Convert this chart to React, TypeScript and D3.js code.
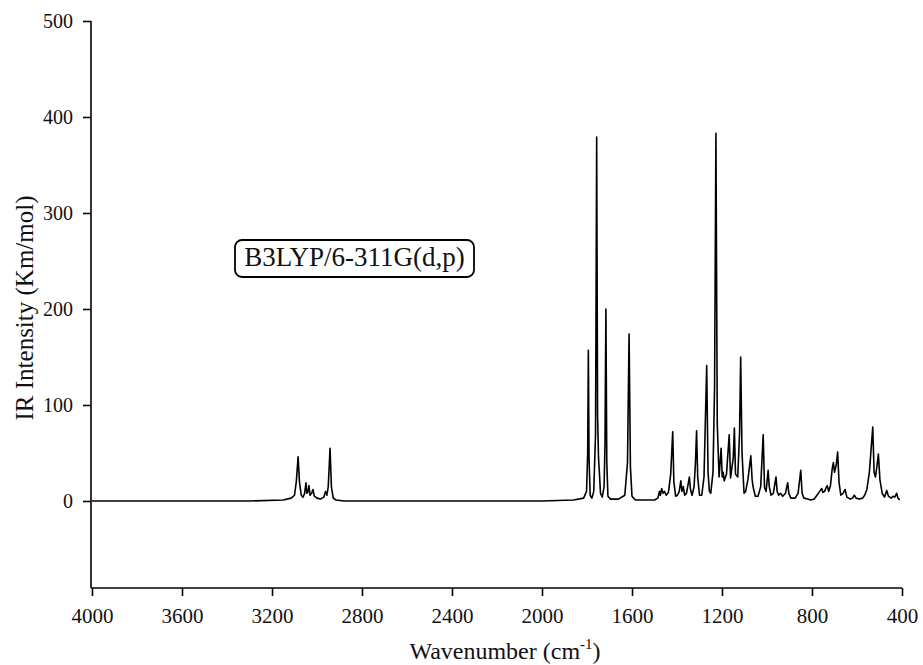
import React, { useEffect, useRef } from 'react';
import * as d3 from 'd3';

const chBand: [number, number][] = [
  [4000, 0], [3300, 0], [3150, 1], [3115, 3], [3100, 6], [3092, 20], [3084, 46], [3078, 20],
  [3070, 6], [3062, 4], [3055, 8], [3049, 19], [3045, 8], [3040, 10], [3036, 16], [3031, 6],
  [3024, 8], [3018, 12], [3012, 5], [3000, 3], [2985, 2], [2970, 4], [2962, 10], [2956, 6],
  [2950, 15], [2942, 55], [2936, 15], [2928, 3], [2915, 1], [2880, 0],
];

const carbonylBand: [number, number][] = [
  [2000, 0], [1860, 1], [1815, 3], [1802, 10], [1797, 50], [1794, 157], [1791, 45], [1786, 6],
  [1778, 3], [1770, 10], [1762, 70], [1757, 379], [1753, 90], [1749, 46], [1745, 30], [1740, 8],
  [1732, 4], [1724, 15], [1720, 60], [1716, 200], [1712, 40], [1707, 5], [1695, 2], [1660, 2],
  [1632, 6], [1620, 40], [1613, 174], [1607, 35], [1600, 5], [1585, 1], [1530, 1],
];

const fingerprintBand: [number, number][] = [
  [1500, 1], [1485, 3], [1478, 10], [1474, 6], [1468, 13], [1462, 8], [1456, 10], [1448, 6],
  [1438, 9], [1428, 28], [1419, 72], [1414, 20], [1406, 5], [1398, 6], [1390, 10], [1383, 21],
  [1378, 10], [1372, 15], [1366, 6], [1358, 8], [1350, 18], [1345, 25], [1340, 12], [1333, 6],
  [1324, 15], [1318, 40], [1313, 73], [1308, 25], [1300, 6], [1290, 6], [1280, 25], [1268, 141],
  [1262, 30], [1256, 10], [1250, 8], [1240, 30], [1233, 120], [1227, 383], [1221, 80], [1213, 25],
  [1204, 55], [1199, 25], [1195, 30], [1190, 21], [1180, 28], [1168, 69], [1162, 24], [1150, 45],
  [1145, 76], [1140, 28], [1130, 25], [1122, 70], [1117, 150], [1111, 50], [1102, 8], [1095, 10],
  [1085, 22], [1072, 47], [1066, 22], [1062, 15], [1052, 5], [1040, 5], [1028, 15], [1017, 69],
  [1011, 14], [1004, 10], [995, 32], [990, 15], [982, 6], [972, 8], [960, 25], [955, 10],
  [948, 6], [940, 8], [930, 5], [918, 8], [908, 19], [903, 8], [894, 3], [875, 3],
  [862, 8], [850, 32], [844, 8], [836, 3], [820, 2], [805, 1], [790, 2], [778, 6],
  [766, 10], [757, 13], [751, 9], [744, 10], [737, 14], [732, 16], [726, 10], [718, 16],
  [710, 34], [705, 40], [700, 30], [692, 38], [686, 51], [680, 20], [672, 6], [662, 8],
  [653, 12], [645, 4], [630, 2], [620, 3], [612, 6], [604, 3], [590, 2], [575, 3],
  [566, 6], [556, 12], [545, 30], [530, 77], [524, 30], [518, 25], [512, 35], [505, 49],
  [498, 22], [488, 8], [478, 4], [468, 11], [460, 5], [448, 3], [440, 5], [432, 4],
  [424, 8], [418, 3], [410, 1],
];

const xTicks = [4000, 3600, 3200, 2800, 2400, 2000, 1600, 1200, 800, 400];
const yTicks = [0, 100, 200, 300, 400, 500];
const methodLabel = 'B3LYP/6-311G(d,p)';

const FONT = '"Liberation Serif", "Times New Roman", serif';

const App = () => {
  const svgRef = useRef<SVGSVGElement>(null);

  useEffect(() => {
    const svg = d3.select(svgRef.current);
    svg.selectAll('*').remove();

    const left = 91;
    const bottom = 588;

    const x = d3.scaleLinear().domain([4000, 400]).range([92, 902]);
    const y = d3.scaleLinear().domain([0, 500]).range([501, 21]);

    // x axis
    const xAxis = svg.append('g')
      .attr('transform', `translate(0,${bottom})`)
      .call(d3.axisBottom(x).tickValues(xTicks).tickSize(8).tickSizeOuter(0).tickPadding(12).tickFormat(d3.format('d')))
      .attr('font-family', FONT)
      .attr('font-size', 21);
    xAxis.select('.domain').attr('stroke-width', 1.6).attr('d', `M${left},0H902`);
    xAxis.selectAll('.tick line').attr('stroke-width', 1.6);
    xAxis.selectAll('text').style('font-family', FONT).attr('fill', '#111');

    // y axis
    const yAxis = svg.append('g')
      .attr('transform', `translate(${left},0)`)
      .call(d3.axisLeft(y).tickValues(yTicks).tickSize(8).tickSizeOuter(0).tickPadding(10))
      .attr('font-family', FONT)
      .attr('font-size', 20);
    yAxis.select('.domain').attr('stroke-width', 1.6).attr('d', `M0,${y(500)}V${bottom}`);
    yAxis.selectAll('.tick line').attr('stroke-width', 1.6);
    yAxis.selectAll('text').style('font-family', FONT).attr('fill', '#111');

    // spectrum
    const trace = [...chBand, ...carbonylBand, ...fingerprintBand];
    const line = d3.line<[number, number]>()
      .x(d => x(d[0]))
      .y(d => y(d[1]));

    svg.append('path')
      .datum(trace)
      .attr('d', line)
      .attr('fill', 'none')
      .attr('stroke', '#000')
      .attr('stroke-width', 1.6)
      .attr('stroke-linejoin', 'round');

    // method label box
    const box = svg.append('g');
    box.append('rect')
      .attr('x', 235).attr('y', 240)
      .attr('width', 239).attr('height', 37)
      .attr('rx', 7)
      .attr('fill', '#fff')
      .attr('stroke', '#000')
      .attr('stroke-width', 1.8);
    box.append('text')
      .attr('x', 354.5).attr('y', 266)
      .attr('text-anchor', 'middle')
      .style('font-family', FONT)
      .attr('font-size', 27)
      .attr('fill', '#111')
      .text(methodLabel);

    // axis titles
    const xt = svg.append('text')
      .attr('x', 505).attr('y', 659)
      .attr('text-anchor', 'middle')
      .style('font-family', FONT)
      .attr('font-size', 24)
      .attr('fill', '#111');
    xt.append('tspan').text('Wavenumber (cm');
    xt.append('tspan').attr('font-size', 15).attr('dy', -10).text('-1');
    xt.append('tspan').attr('dy', 10).text(')');

    svg.append('text')
      .attr('transform', `translate(33,308) rotate(-90)`)
      .attr('text-anchor', 'middle')
      .style('font-family', FONT)
      .attr('font-size', 25)
      .attr('fill', '#111')
      .text('IR Intensity (Km/mol)');
  }, []);

  return (
    <svg
      ref={svgRef}
      width={923}
      height={665}
      style={{ position: 'absolute', left: 0, top: 0, background: '#fff' }}
    />
  );
};

export default App;
